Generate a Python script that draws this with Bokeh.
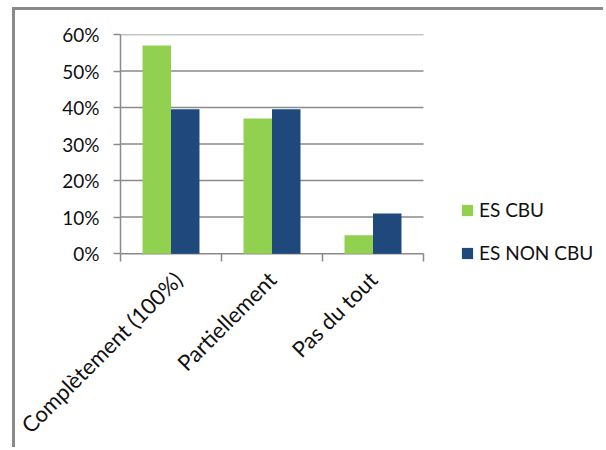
from bokeh.plotting import figure
from bokeh.embed import file_html
from bokeh.resources import INLINE
from bokeh.models import (Range1d, FixedTicker, NumeralTickFormatter, Legend,
                          LegendItem, ColumnDataSource)

categories = ["Complètement (100%)", "Partiellement", "Pas du tout"]
series_names = ["ES CBU", "ES NON CBU"]
es_cbu = [0.57, 0.37, 0.05]
es_non_cbu = [0.395, 0.395, 0.11]
y_ticks = [0.0, 0.1, 0.2, 0.3, 0.4, 0.5, 0.6]

GREEN = "#92D050"
BLUE = "#1F497D"
GRAY = "#8a8a8a"
FONT = "Lato"

n = len(categories)
centers = [i + 0.5 for i in range(n)]
bar_w = 0.282

# The plotting frame runs on to the right edge and some pixels below zero so
# that the legend fits inside it; the category area itself covers 303 x 221 px.
FRAME_W, CAT_W = 486, 303
TICK = 8          # length of the category-edge tick marks
EXTRA = 16        # frame height below the zero line
VAL_H = 221
FRAME_H = VAL_H + EXTRA
y_top = max(y_ticks)
x_end = n * FRAME_W / CAT_W
y_start = -y_top * EXTRA / VAL_H

src = ColumnDataSource(dict(
    x_cbu=[c - bar_w / 2 for c in centers],
    x_non=[c + bar_w / 2 for c in centers],
    cbu=es_cbu,
    non=es_non_cbu,
))

p = figure(width=591, height=440, output_backend="svg", toolbar_location=None,
           x_range=Range1d(0, x_end), y_range=Range1d(y_start, y_top),
           min_border_left=105, min_border_top=24, min_border_right=0,
           min_border_bottom=440 - 24 - FRAME_H)
p.styles = {"border-top": f"3px solid {GRAY}", "border-left": f"3px solid {GRAY}",
            "margin-left": "12px", "margin-top": "7px"}
p.outline_line_color = None
p.background_fill_color = "white"
p.border_fill_color = "white"

# horizontal gridlines (the one at zero doubles as the category axis line)
p.segment(x0=[0] * len(y_ticks), x1=[n] * len(y_ticks), y0=y_ticks, y1=y_ticks,
          line_color=GRAY, line_width=1.5)

r1 = p.vbar(x="x_cbu", top="cbu", width=bar_w, source=src, fill_color=GREEN,
            line_color=None)
r2 = p.vbar(x="x_non", top="non", width=bar_w, source=src, fill_color=BLUE,
            line_color=None)

# x axis sits on the frame bottom: labels at the category centres, and the
# category-edge tick marks hang down from the zero line
xa = p.xaxis[0]
xa.bounds = (0, n)
xa.ticker = FixedTicker(ticks=centers, minor_ticks=list(range(n + 1)))
xa.major_label_overrides = {c: name for c, name in zip(centers, categories)}
xa.major_tick_out = 0
xa.major_tick_in = 0
xa.minor_tick_in = EXTRA
xa.minor_tick_out = TICK - EXTRA
xa.minor_tick_line_color = GRAY
xa.minor_tick_line_width = 1.5
xa.axis_line_color = None
xa.major_label_orientation = 0.785398
xa.major_label_standoff = 6
xa.major_label_text_font = FONT
xa.major_label_text_font_size = "22px"
xa.major_label_text_color = "#111111"

ya = p.yaxis[0]
ya.bounds = (0, y_top)
ya.ticker = FixedTicker(ticks=y_ticks, minor_ticks=[])
ya.formatter = NumeralTickFormatter(format="0%")
ya.major_tick_out = 7
ya.major_tick_in = 0
ya.major_tick_line_color = GRAY
ya.major_tick_line_width = 1.5
ya.axis_line_color = GRAY
ya.axis_line_width = 1.5
ya.major_label_standoff = 14
ya.major_label_text_font = FONT
ya.major_label_text_font_size = "19px"
ya.major_label_text_color = "#111111"

p.xgrid.grid_line_color = None
p.ygrid.grid_line_color = None

legend = Legend(items=[LegendItem(label=series_names[0], renderers=[r1]),
                       LegendItem(label=series_names[1], renderers=[r2])],
                location=(340, EXTRA - 11))
legend.glyph_width = 14
legend.glyph_height = 14
legend.label_height = 14
legend.spacing = 20
legend.label_standoff = 5
legend.padding = 0
legend.margin = 0
legend.border_line_color = None
legend.background_fill_alpha = 0
legend.label_text_font = FONT
legend.label_text_font_size = "19px"
legend.label_text_color = "#111111"
p.add_layout(legend)

open("out.html", "w").write(file_html(p, INLINE))
